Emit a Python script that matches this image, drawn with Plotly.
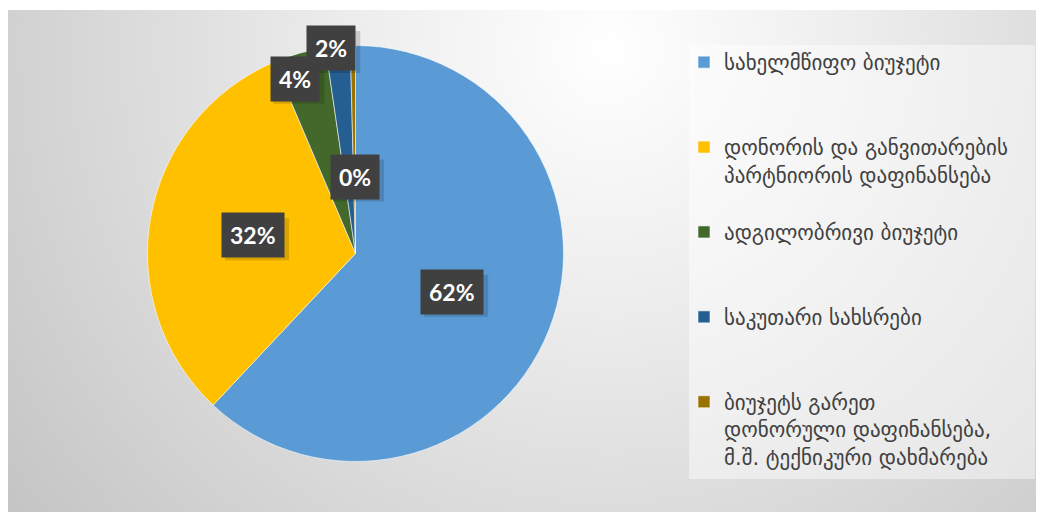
import base64, math
import plotly.graph_objects as go

# ---- data ----
categories = [
    "სახელმწიფო ბიუჯეტი",
    "დონორის და განვითარების<br>პარტნიორის დაფინანსება",
    "ადგილობრივი ბიუჯეტი",
    "საკუთარი სახსრები",
    "ბიუჯეტს გარეთ<br>დონორული დაფინანსება,<br>მ.შ. ტექნიკური დახმარება",
]
values = [62.0, 31.6, 4.1, 1.9, 0.4]

# ---- style ----
colors = ["#5B9BD5", "#FFC000", "#43682B", "#255E91", "#997300"]
legend_pad_lines = [2, 1, 2, 2, 0]
label_radius = [0.5, 0.5, 0.89, 0.995, 0.37]
label_angle_shift = [0, 0, -3.5, -2, 0]

W, H = 1044, 512
cx, cy, R = 347.5, 245.5, 208.0

svg = '''<svg xmlns="http://www.w3.org/2000/svg" width="1044" height="510" viewBox="0 0 1044 510">
<defs><radialGradient id="g" cx="600" cy="40" r="760" gradientUnits="userSpaceOnUse">
<stop offset="0" stop-color="#ffffff"/><stop offset="0.35" stop-color="#ececec"/>
<stop offset="1" stop-color="#c4c4c4"/></radialGradient></defs>
<rect width="1044" height="510" fill="url(#g)"/></svg>'''
src = "data:image/svg+xml;base64," + base64.b64encode(svg.encode()).decode()

legend_labels = [c + "<br> " * p for c, p in zip(categories, legend_pad_lines)]

fig = go.Figure(go.Pie(
    labels=legend_labels,
    values=values,
    sort=False,
    direction="clockwise",
    rotation=0,
    marker=dict(colors=colors, line=dict(color="rgba(255,255,255,0.7)", width=0.8)),
    textinfo="none",
    hoverinfo="label+percent",
    domain=dict(x=[(cx - R) / W, (cx + R) / W], y=[1 - (cy + R) / H, 1 - (cy - R) / H]),
))

annotations = []
shadow_shapes = []
total = sum(values)
cum = 0.0
for v, rf, sh in zip(values, label_radius, label_angle_shift):
    mid = (cum + v / 2) / total * 360 + sh
    cum += v
    px = cx + rf * R * math.sin(math.radians(mid))
    py = cy - rf * R * math.cos(math.radians(mid))
    txt = f"{round(v / total * 100)}%"
    bw = 16 + 13 * (len(txt) - 1) + 22
    bh = 42
    shadow_shapes.append(dict(type="rect", xref="paper", yref="paper",
                              x0=(px - bw / 2 + 4) / W, x1=(px + bw / 2 + 4) / W,
                              y0=1 - (py + bh / 2 + 4) / H, y1=1 - (py - bh / 2 + 4) / H,
                              fillcolor="rgba(0,0,0,0.15)", line=dict(width=0), layer="above"))
    annotations.append(dict(x=px / W, y=1 - py / H, xref="paper", yref="paper",
                            showarrow=False, borderpad=8, xanchor="center", yanchor="middle",
                            text=txt, bgcolor="#404040",
                            font=dict(family="Lato", size=23, color="white", weight="bold")))

fig.update_layout(
    width=W, height=H,
    margin=dict(l=0, r=0, t=0, b=0),
    paper_bgcolor="white",
    plot_bgcolor="rgba(0,0,0,0)",
    images=[dict(source=src, xref="paper", yref="paper", x=0, y=1 - 2 / H,
                 sizex=1, sizey=510 / H, xanchor="left", yanchor="top",
                 sizing="stretch", layer="below")],
    shapes=[dict(type="rect", xref="paper", yref="paper", x0=681 / W, x1=1027 / W,
                 y0=1 - 471 / H, y1=1 - 37 / H, fillcolor="rgba(255,255,255,0.45)",
                 line=dict(width=0), layer="below")] + shadow_shapes,
    legend=dict(x=676 / W, y=1 - 34 / H, xanchor="left", yanchor="top",
                bgcolor="rgba(0,0,0,0)", valign="top",
                font=dict(family="DejaVu Sans", size=21, color="#404040")),
    annotations=annotations,
    showlegend=True,
)

fig.write_html("out.html")
